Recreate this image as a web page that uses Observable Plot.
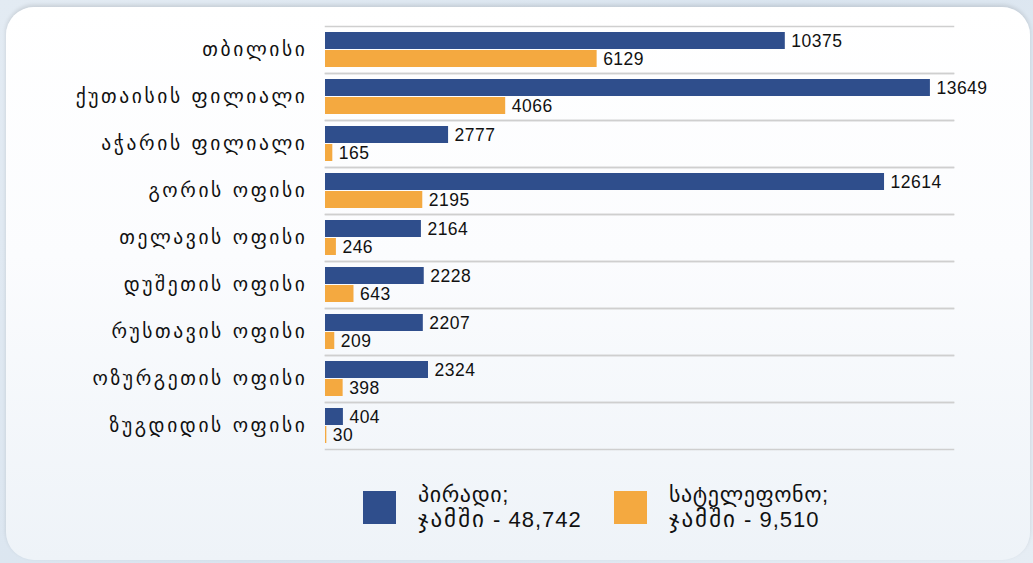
<!DOCTYPE html>
<html>
<head>
<meta charset="utf-8">
<script src="https://cdn.jsdelivr.net/npm/d3@7"></script>
<script src="https://cdn.jsdelivr.net/npm/@observablehq/plot@0.6"></script>
<style>
  html, body { margin: 0; padding: 0; }
  body {
    width: 1033px; height: 563px; overflow: hidden; position: relative;
    background: linear-gradient(135deg, #e3ebf3 0%, #d9e4ef 50%, #e6edf4 100%);
    font-family: "Liberation Sans", "DejaVu Sans", sans-serif;
  }
  #panel {
    position: absolute; left: 6px; top: 7px; width: 1024px; height: 553px;
    border-radius: 28px;
    background: linear-gradient(180deg, #ffffff 0%, #fbfcfe 45%, #eef3f8 100%);
    box-shadow: 0 -2px 4px rgba(0,0,0,0.12);
  }
  #chart { position: absolute; left: 0; top: 0; }
  #chart svg { overflow: visible; background: transparent; }
  g[aria-label="fy-axis tick label"] text { letter-spacing: 2.6px; }
  g[aria-label="text"] text { letter-spacing: 0.5px; }
  #legend { position: absolute; top: 482px; left: 0; width: 1033px; height: 60px; }
  .item { position: absolute; top: 0; display: flex; align-items: flex-start; }
  .sw { width: 33px; height: 33px; margin-top: 9px; margin-right: 22px; }
  .lt { font-size: 22px; line-height: 25px; color: #111; letter-spacing: 1px; font-family: "Liberation Sans", "DejaVu Sans", sans-serif; }
  .lt .ka { font-family: "DejaVu Sans", sans-serif; font-size: 22px; letter-spacing: 0.6px; }
  .lt .kb { font-family: "DejaVu Sans", sans-serif; font-size: 23px; letter-spacing: 2px; }
</style>
</head>
<body>
<div id="panel"></div>
<div id="chart"></div>
<div id="legend"></div>
<script>
const categories = [
  "თბილისი",
  "ქუთაისის ფილიალი",
  "აჭარის ფილიალი",
  "გორის ოფისი",
  "თელავის ოფისი",
  "დუშეთის ოფისი",
  "რუსთავის ოფისი",
  "ოზურგეთის ოფისი",
  "ზუგდიდის ოფისი"
];
const seriesNames = ["პირადი", "სატელეფონო"];
const personal = [10375, 13649, 2777, 12614, 2164, 2228, 2207, 2324, 404];
const phone = [6129, 4066, 165, 2195, 246, 643, 209, 398, 30];
const totalWord = "ჯამში";
const totals = ["48,742", "9,510"];
const colors = ["#2f4e8c", "#f4a940"];

const data = categories.flatMap((c, i) => [
  {category: c, series: seriesNames[0], value: personal[i]},
  {category: c, series: seriesNames[1], value: phone[i]}
]);

const chart = Plot.plot({
  width: 1033,
  height: 460,
  marginLeft: 325,
  marginRight: 80,
  marginTop: 22,
  marginBottom: 7.5,
  style: {fontSize: "19.5px", fontFamily: "'DejaVu Sans', 'Liberation Sans', sans-serif", color: "#111", background: "transparent"},
  x: {domain: [0, 14170], axis: null},
  y: {domain: seriesNames, axis: null, paddingInner: 0.07, paddingOuter: 0.3},
  fy: {domain: categories, padding: 0, label: null, axis: "left", tickSize: 0, tickPadding: 18},
  color: {domain: seriesNames, range: colors},
  marks: [
    Plot.frame({anchor: "top", stroke: "#cfcfcf", strokeWidth: 1.5}),
    Plot.frame({anchor: "bottom", stroke: "#cfcfcf", strokeWidth: 1.5}),
    Plot.barX(data, {x: "value", y: "series", fy: "category", fill: "series"}),
    Plot.text(data, {
      x: "value", y: "series", fy: "category",
      text: d => String(d.value),
      textAnchor: "start", dx: 6, fontSize: 17.5,
      fill: "#111",
      fontFamily: "'Liberation Sans', sans-serif"
    })
  ]
});
document.getElementById("chart").appendChild(chart);

const legend = document.getElementById("legend");
const lefts = [363, 614];
seriesNames.forEach((s, i) => {
  const item = document.createElement("div");
  item.className = "item";
  item.style.left = lefts[i] + "px";
  const sw = document.createElement("div");
  sw.className = "sw";
  sw.style.background = colors[i];
  const lt = document.createElement("div");
  lt.className = "lt";
  lt.innerHTML = '<span class="ka">' + s + '</span>;<br><span class="kb">' + totalWord + '</span> - ' + totals[i];
  item.appendChild(sw);
  item.appendChild(lt);
  legend.appendChild(item);
});
</script>
</body>
</html>
